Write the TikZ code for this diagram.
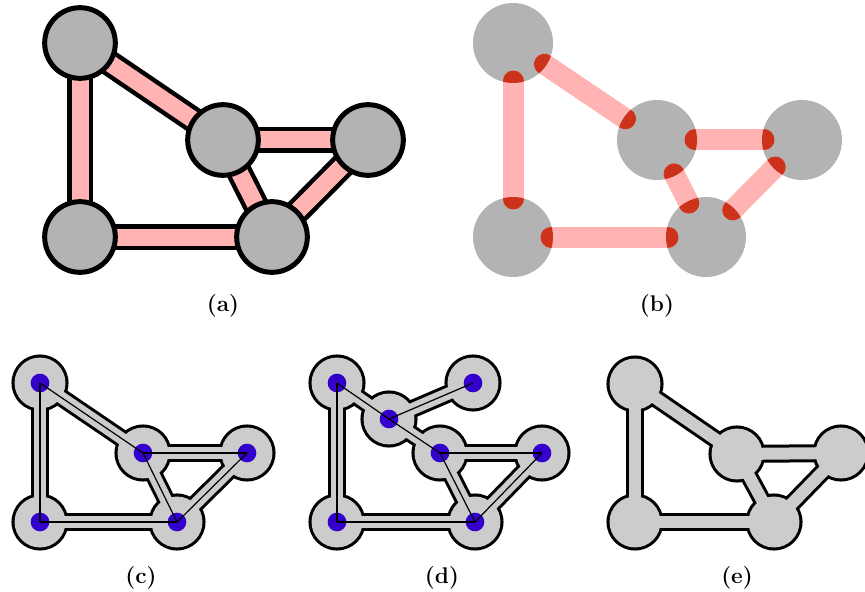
\documentclass[tikz,border=0pt]{standalone}
\usepackage{fontspec}
\usepackage{tikz}
\usetikzlibrary{positioning}

\definecolor{nodegray}{RGB}{179,179,179}
\definecolor{edgepink}{RGB}{255,179,179}
\definecolor{capred}{RGB}{204,51,26}
\definecolor{blobgray}{RGB}{204,204,204}
\definecolor{dotblue}{RGB}{51,0,204}

\pgfdeclarelayer{rim}
\pgfdeclarelayer{body}
\pgfsetlayers{rim,body,main}

\newcommand{\captfont}{\fontsize{17}{20}\selectfont\bfseries}

\begin{document}
\begin{tikzpicture}
	[x=0.75pt,y=-0.75pt,
	vtxa/.style={circle,draw=black,fill=nodegray,line width=3.75pt,
		inner sep=0pt,minimum size=53pt},
	vtxb/.style={circle,fill=nodegray,inner sep=0pt,minimum size=60pt},
	dot/.style={circle,fill=dotblue,inner sep=0pt,minimum size=14pt},
	pinkbar/.style={edgepink,line width=15.75pt,line cap=round,
		shorten <=28.5pt,shorten >=28.5pt},
	blobrim/.style={black,line width=13.5pt},
	blobbody/.style={blobgray,line width=9pt},
	lbl/.style={font=\captfont}]
	\useasboundingbox (0,0) rectangle (865,592);

	% (a) graph with outlined edges
	\node[vtxa] (a1) at (80,43) {};
	\node[vtxa] (a2) at (223,140) {};
	\node[vtxa] (a3) at (368,140) {};
	\node[vtxa] (a4) at (80,237) {};
	\node[vtxa] (a5) at (272,237) {};
	\begin{pgfonlayer}{rim}
	\foreach \u/\v in {a1/a2,a1/a4,a2/a3,a2/a5,a3/a5,a4/a5}
		\draw[line width=19.5pt] (\u.center) -- (\v.center);
	\end{pgfonlayer}
	\begin{pgfonlayer}{body}
	\foreach \u/\v in {a1/a2,a1/a4,a2/a3,a2/a5,a3/a5,a4/a5}
		\draw[edgepink,line width=12.75pt] (\u.center) -- (\v.center);
	\end{pgfonlayer}

	% (b) edges ending inside the vertices
	\node[vtxb] (b1) at (513,43) {};
	\node[vtxb] (b2) at (657,140) {};
	\node[vtxb] (b3) at (802,140) {};
	\node[vtxb] (b4) at (513,237) {};
	\node[vtxb] (b5) at (706,237) {};
	\foreach \u/\v in {b1/b2,b1/b4,b2/b3,b2/b5,b3/b5,b4/b5}
		\draw[pinkbar] (\u.center) -- (\v.center);
	\foreach \n in {b1,b2,b3,b4,b5}{
		\begin{scope}
			\clip (\n.center) circle (30pt);
			\foreach \u/\v in {b1/b2,b1/b4,b2/b3,b2/b5,b3/b5,b4/b5}
				\draw[pinkbar,capred] (\u.center) -- (\v.center);
		\end{scope}
	}

	% (c)
	\node[dot] (c1) at (40,383) {};
	\node[dot] (c2) at (143,453) {};
	\node[dot] (c3) at (247,453) {};
	\node[dot] (c4) at (40,522) {};
	\node[dot] (c5) at (177,522) {};
	\begin{pgfonlayer}{rim}
	\foreach \n in {c1,c2,c3,c4,c5}
		\fill (\n.center) circle (21.4pt);
	\foreach \u/\v in {c1/c2,c1/c4,c2/c3,c2/c5,c3/c5,c4/c5}
		\draw[blobrim] (\u.center) -- (\v.center);
	\end{pgfonlayer}
	\begin{pgfonlayer}{body}
	\foreach \n in {c1,c2,c3,c4,c5}
		\fill[blobgray] (\n.center) circle (19.1pt);
	\foreach \u/\v in {c1/c2,c1/c4,c2/c3,c2/c5,c3/c5,c4/c5}
		\draw[blobbody] (\u.center) -- (\v.center);
	\end{pgfonlayer}
	\foreach \u/\v in {c1/c2,c1/c4,c2/c3,c2/c5,c3/c5,c4/c5}
		\draw[line width=0.9pt] (\u.center) -- (\v.center);

	% (d)
	\node[dot] (d1) at (337,383) {};
	\node[dot] (d2) at (473,383) {};
	\node[dot] (d3) at (389,419) {};
	\node[dot] (d4) at (440,453) {};
	\node[dot] (d5) at (542,453) {};
	\node[dot] (d6) at (337,522) {};
	\node[dot] (d7) at (475,522) {};
	\begin{pgfonlayer}{rim}
	\foreach \n in {d1,d2,d3,d4,d5,d6,d7}
		\fill (\n.center) circle (21.4pt);
	\foreach \u/\v in {d1/d3,d3/d2,d3/d4,d1/d6,d6/d7,d4/d5,d4/d7,d5/d7}
		\draw[blobrim] (\u.center) -- (\v.center);
	\end{pgfonlayer}
	\begin{pgfonlayer}{body}
	\foreach \n in {d1,d2,d3,d4,d5,d6,d7}
		\fill[blobgray] (\n.center) circle (19.1pt);
	\foreach \u/\v in {d1/d3,d3/d2,d3/d4,d1/d6,d6/d7,d4/d5,d4/d7,d5/d7}
		\draw[blobbody] (\u.center) -- (\v.center);
	\end{pgfonlayer}
	\foreach \u/\v in {d1/d3,d3/d2,d3/d4,d1/d6,d6/d7,d4/d5,d4/d7,d5/d7}
		\draw[line width=0.9pt] (\u.center) -- (\v.center);

	% (e)
	\coordinate (e1) at (635,384);
	\coordinate (e2) at (737,454);
	\coordinate (e3) at (841,453);
	\coordinate (e4) at (635,522);
	\coordinate (e5) at (774,522);
	\begin{pgfonlayer}{rim}
	\foreach \n in {e1,e2,e3,e4,e5}
		\fill (\n) circle (21.4pt);
	\foreach \u/\v in {e1/e2,e1/e4,e2/e3,e2/e5,e3/e5,e4/e5}
		\draw[blobrim] (\u) -- (\v);
	\end{pgfonlayer}
	\begin{pgfonlayer}{body}
	\foreach \n in {e1,e2,e3,e4,e5}
		\fill[blobgray] (\n) circle (19.1pt);
	\foreach \u/\v in {e1/e2,e1/e4,e2/e3,e2/e5,e3/e5,e4/e5}
		\draw[blobbody] (\u) -- (\v);
	\end{pgfonlayer}

	%captions
	\node[lbl] (la) at (223,306) {(a)};
	\node[lbl] (lb) at (657,306) {(b)};
	\node[lbl] (lc) at (141,578) {(c)};
	\node[lbl] (ld) at (442,578) {(d)};
	\node[lbl] (le) at (737,578) {(e)};
\end{tikzpicture}
\end{document}
